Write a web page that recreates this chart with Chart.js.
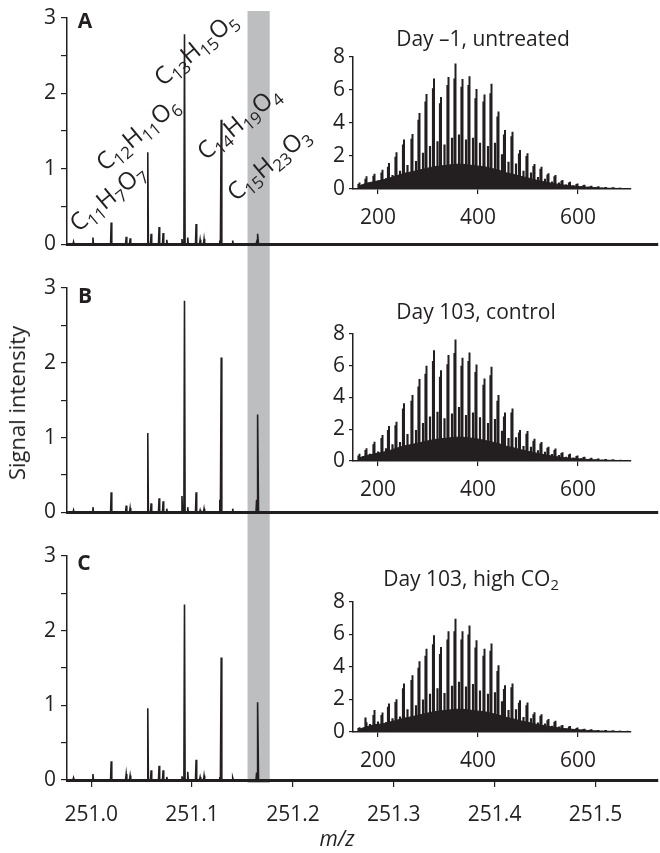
<!DOCTYPE html>
<html>
<head>
<meta charset="utf-8">
<script src="https://cdn.jsdelivr.net/npm/chart.js@4.4.1/dist/chart.umd.min.js"></script>
<style>
body { margin: 0; background: #fff; }
#wrap { position: relative; width: 660px; height: 853px; overflow: hidden;
        font-family: 'Open Sans', sans-serif; color: #231f20; }
#wrap canvas { position: absolute; }
.lbl { position: absolute; white-space: nowrap; font-size: 22px; line-height: 1;
       transform: translate(-50%, -50%); }
.lbl sub { font-size: 0.7em; vertical-align: -0.32em; line-height: 0; }
.formula { font-size: 24px; transform: translate(-50%, -50%) rotate(-40deg); }
.panel { font-weight: bold; font-size: 21px; }
.title { font-size: 21px; }
.ylab { transform: translate(-50%, -50%) rotate(-90deg); }
.mz { font-style: italic; font-size: 21px; }
</style>
</head>
<body>
<div id="wrap">
  <canvas id="mainA" width="660" height="262" style="left:0;top:0"></canvas>
  <canvas id="mainB" width="660" height="268" style="left:0;top:262px"></canvas>
  <canvas id="mainC" width="660" height="323" style="left:0;top:530px"></canvas>
  <canvas id="insetA" width="360" height="200" style="left:300px;top:40px"></canvas>
  <canvas id="insetB" width="360" height="200" style="left:300px;top:317px"></canvas>
  <canvas id="insetC" width="360" height="195" style="left:300px;top:585px"></canvas>

  <div class="lbl panel" style="left:85px;top:20px">A</div>
  <div class="lbl panel" style="left:85px;top:295px">B</div>
  <div class="lbl panel" style="left:84px;top:562px">C</div>

  <div class="lbl formula" style="left:107px;top:197px">C<sub>11</sub>H<sub>7</sub>O<sub>7</sub></div>
  <div class="lbl formula" style="left:137px;top:133px">C<sub>12</sub>H<sub>11</sub>O<sub>6</sub></div>
  <div class="lbl formula" style="left:195px;top:48px">C<sub>13</sub>H<sub>15</sub>O<sub>5</sub></div>
  <div class="lbl formula" style="left:238px;top:122px">C<sub>14</sub>H<sub>19</sub>O<sub>4</sub></div>
  <div class="lbl formula" style="left:268px;top:163px">C<sub>15</sub>H<sub>23</sub>O<sub>3</sub></div>

  <div class="lbl title" style="left:483px;top:38px">Day –1, untreated</div>
  <div class="lbl title" style="left:476px;top:311px">Day 103, control</div>
  <div class="lbl title" style="left:471px;top:578px">Day 103, high CO<sub>2</sub></div>

  <div class="lbl ylab" style="left:16px;top:403px">Signal intensity</div>
  <div class="lbl mz" style="left:337px;top:838px">m/z</div>
</div>

<script>
// main spectra: m/z of each peak and its intensity in the three samples
const peakMz = [250.9825, 251.0017, 251.0198, 251.0347, 251.0386, 251.0561, 251.0594, 251.0673, 251.0713, 251.0749,
                251.0900, 251.0925, 251.0957, 251.1040, 251.1080, 251.1119, 251.1275, 251.1289, 251.1403, 251.1640, 251.1653];
const peaksA = [0.035, 0.09, 0.29, 0.10, 0.08, 1.22, 0.14, 0.23, 0.15, 0.06, 0.07, 2.78, 0.09, 0.27, 0.06, 0.07, 0.05, 1.65, 0.05, 0.03, 0.14];
const peaksB = [0.03, 0.07, 0.27, 0.09, 0.06, 1.06, 0.12, 0.19, 0.15, 0.05, 0.22, 2.83, 0.07, 0.27, 0.03, 0.05, 0.17, 2.07, 0.05, 0.17, 1.31];
const peaksC = [0.03, 0.08, 0.25, 0.08, 0.06, 0.96, 0.13, 0.19, 0.13, 0.04, 0.05, 2.35, 0.11, 0.27, 0.04, 0.06, 0.04, 1.64, 0.03, 0.10, 1.04];

const bandMz = [251.155, 251.177];
const mainXTicks = [251.0, 251.1, 251.2, 251.3, 251.4, 251.5];
const mainYTicks = [0, 0.5, 1, 1.5, 2, 2.5, 3];

// insets: broadband spectra, one cluster every ~14 Da
const insetMz = [163, 177, 193, 209, 222, 237, 252, 269, 283, 297, 312, 326, 341, 355, 369, 383, 397, 413, 427,
                 441, 454, 469, 484, 499, 513, 527, 541, 555, 569, 584, 599, 613, 627, 641, 656, 671, 685, 699];
const tallA = [0.40, 0.77, 0.93, 1.17, 1.58, 2.22, 3.00, 3.33, 4.60, 5.76, 6.69, 5.58, 6.79, 7.60, 6.67, 6.83, 6.06, 5.72, 6.38,
               4.70, 3.58, 3.47, 2.36, 2.16, 1.52, 1.35, 0.95, 0.85, 0.55, 0.44, 0.34, 0.26, 0.20, 0.16, 0.12, 0.10, 0.08, 0.06];
const secondA = [0.30, 0.62, 0.80, 1.00, 1.35, 1.95, 2.70, 3.05, 4.20, 5.30, 6.10, 5.20, 6.30, 6.70, 6.20, 6.30, 5.50, 5.30, 5.80,
                 4.40, 3.30, 3.20, 2.15, 2.00, 1.40, 1.22, 0.88, 0.78, 0.50, 0.40, 0.31, 0.24, 0.18, 0.14, 0.11, 0.09, 0.07, 0.05];
const midA = [0.25, 0.40, 0.50, 0.65, 0.85, 1.10, 1.45, 1.70, 2.20, 2.60, 2.90, 2.70, 3.10, 3.30, 3.00, 3.10, 2.80, 2.60, 2.80,
              2.10, 1.65, 1.55, 1.10, 1.00, 0.72, 0.62, 0.45, 0.40, 0.27, 0.22, 0.17, 0.13, 0.10, 0.08, 0.06, 0.05, 0.04, 0.03];
const baseA = [0.20, 0.35, 0.45, 0.55, 0.65, 0.80, 0.95, 1.05, 1.15, 1.25, 1.35, 1.40, 1.45, 1.50, 1.50, 1.45, 1.40, 1.35, 1.25,
               1.15, 1.00, 0.90, 0.78, 0.68, 0.56, 0.47, 0.38, 0.31, 0.25, 0.20, 0.15, 0.12, 0.09, 0.07, 0.05, 0.04, 0.03, 0.02];

const tallB = [0.45, 0.80, 1.21, 1.64, 2.20, 2.47, 3.63, 4.15, 5.16, 6.00, 6.98, 5.72, 6.67, 7.65, 6.50, 6.84, 6.08, 5.20, 5.93,
               4.15, 3.06, 3.31, 1.95, 1.89, 1.40, 1.20, 0.90, 0.78, 0.55, 0.45, 0.35, 0.27, 0.20, 0.16, 0.12, 0.10, 0.08, 0.06];
const secondB = [0.35, 0.70, 1.05, 1.45, 1.95, 2.25, 3.30, 3.80, 4.70, 5.50, 6.30, 5.30, 6.10, 6.80, 6.00, 6.30, 5.60, 4.80, 5.40,
                 3.80, 2.80, 3.05, 1.80, 1.72, 1.28, 1.10, 0.83, 0.70, 0.50, 0.41, 0.32, 0.25, 0.18, 0.14, 0.11, 0.09, 0.07, 0.05];
const midB = [0.30, 0.45, 0.60, 0.80, 1.05, 1.20, 1.70, 1.95, 2.40, 2.80, 3.10, 2.70, 3.00, 3.40, 2.90, 3.05, 2.75, 2.40, 2.65,
              1.90, 1.45, 1.50, 0.95, 0.90, 0.68, 0.58, 0.44, 0.38, 0.27, 0.22, 0.17, 0.13, 0.10, 0.08, 0.06, 0.05, 0.04, 0.03];
const baseB = [0.20, 0.35, 0.45, 0.55, 0.65, 0.80, 0.95, 1.05, 1.15, 1.25, 1.35, 1.40, 1.45, 1.50, 1.50, 1.45, 1.40, 1.30, 1.20,
               1.10, 0.95, 0.85, 0.72, 0.62, 0.52, 0.43, 0.35, 0.28, 0.22, 0.18, 0.14, 0.11, 0.08, 0.06, 0.05, 0.04, 0.03, 0.02];

const tallC = [0.30, 0.60, 1.35, 1.20, 1.76, 2.02, 2.98, 3.50, 4.36, 5.13, 5.95, 5.23, 6.20, 6.97, 6.20, 6.56, 5.64, 5.13, 5.44,
               4.11, 2.88, 2.99, 1.96, 1.82, 1.21, 1.10, 0.80, 0.70, 0.43, 0.37, 0.27, 0.20, 0.17, 0.13, 0.12, 0.10, 0.08, 0.07];
const secondC = [0.25, 0.90, 1.05, 1.05, 1.55, 1.85, 2.70, 3.20, 3.95, 4.70, 5.40, 4.80, 5.70, 6.20, 5.70, 6.00, 5.20, 4.70, 5.00,
                 3.75, 2.65, 2.75, 1.80, 1.65, 1.10, 1.00, 0.73, 0.63, 0.40, 0.34, 0.25, 0.18, 0.15, 0.12, 0.11, 0.09, 0.07, 0.06];
const midC = [0.25, 0.50, 0.65, 0.60, 0.85, 0.95, 1.40, 1.65, 2.00, 2.35, 2.70, 2.40, 2.85, 3.10, 2.80, 2.95, 2.55, 2.35, 2.45,
              1.90, 1.35, 1.40, 0.92, 0.85, 0.58, 0.52, 0.38, 0.34, 0.21, 0.18, 0.14, 0.10, 0.08, 0.07, 0.06, 0.05, 0.04, 0.03];
const baseC = [0.18, 0.32, 0.45, 0.50, 0.60, 0.72, 0.85, 0.95, 1.05, 1.15, 1.25, 1.30, 1.35, 1.40, 1.40, 1.35, 1.30, 1.25, 1.15,
               1.05, 0.92, 0.82, 0.70, 0.60, 0.50, 0.42, 0.34, 0.28, 0.22, 0.18, 0.14, 0.11, 0.08, 0.06, 0.05, 0.04, 0.03, 0.02];

const insetXTicks = [200, 400, 600];
const insetYTicks = [0, 2, 4, 6, 8];

const ink = '#231f20';
Chart.defaults.font.family = "'Open Sans', sans-serif";
Chart.defaults.color = ink;

// narrow triangle per peak
function sticks(mz, h, half) {
    const pts = [];
    mz.forEach((m, i) => {
        pts.push({ x: m - half, y: 0 }, { x: m, y: h[i] }, { x: m + half, y: 0 });
    });
    return pts;
}

// vertical line per peak, broken by nulls
function spikes(mz, h, shift) {
    const pts = [];
    mz.forEach((m, i) => {
        pts.push({ x: m + shift, y: 0 }, { x: m + shift, y: h[i] }, { x: m + shift, y: null });
    });
    return pts;
}

// grey band behind the C15H23O3 peak
const bandPlugin = {
    id: 'band',
    beforeDraw(chart, args, opts) {
        const sx = chart.scales.x;
        const x1 = sx.getPixelForValue(bandMz[0]);
        const x2 = sx.getPixelForValue(bandMz[1]);
        const ctx = chart.ctx;
        ctx.save();
        ctx.fillStyle = '#bcbec0';
        ctx.fillRect(x1, opts.top, x2 - x1, opts.bottom - opts.top);
        ctx.restore();
    }
};

function mainChart(id, peaks, o) {
    return new Chart(document.getElementById(id), {
        type: 'line',
        data: {
            datasets: [{
                data: sticks(peakMz, peaks, 0.0006),
                borderColor: ink,
                borderWidth: 1.6,
                pointRadius: 0,
                tension: 0
            }]
        },
        options: {
            responsive: false,
            animation: false,
            events: [],
            layout: { padding: { top: o.top, right: 2, left: 0, bottom: 0 } },
            plugins: {
                legend: { display: false },
                tooltip: { enabled: false },
                band: { top: o.bandTop, bottom: o.bandBottom }
            },
            scales: {
                x: {
                    type: 'linear',
                    min: 250.976,
                    max: 251.562,
                    afterBuildTicks: s => { s.ticks = mainXTicks.map(v => ({ value: v })); },
                    afterFit: s => { s.height = o.xh; },
                    ticks: {
                        display: o.labels,
                        autoSkip: false,
                        maxRotation: 0,
                        padding: 15,
                        font: { size: 21 },
                        callback: v => v.toFixed(1)
                    },
                    grid: { display: o.labels, drawOnChartArea: false, tickLength: 7, color: ink, lineWidth: 1.2 },
                    border: { display: true, color: ink, width: 3 }
                },
                y: {
                    min: 0,
                    max: 3,
                    afterBuildTicks: s => { s.ticks = mainYTicks.map(v => ({ value: v })); },
                    afterFit: s => { s.width = 67; },
                    ticks: {
                        autoSkip: false,
                        padding: 5,
                        font: { size: 21 },
                        callback: v => Number.isInteger(v) ? String(v) : ''
                    },
                    grid: { drawOnChartArea: false, tickLength: 6, color: ink, lineWidth: 1.2 },
                    border: { display: true, color: ink, width: 1.5 }
                }
            }
        },
        plugins: [bandPlugin]
    });
}

function insetChart(id, tall, second, mid, base, o) {
    return new Chart(document.getElementById(id), {
        type: 'line',
        data: {
            datasets: [
                {
                    data: insetMz.map((m, i) => ({ x: m, y: base[i] })),
                    fill: 'origin',
                    backgroundColor: ink,
                    borderColor: ink,
                    borderWidth: 1,
                    pointRadius: 0,
                    tension: 0
                },
                { data: spikes(insetMz, mid, 7), borderColor: ink, borderWidth: 2.2, pointRadius: 0 },
                { data: spikes(insetMz, second, -2), borderColor: ink, borderWidth: 2.2, pointRadius: 0 },
                { data: spikes(insetMz, tall, 0), borderColor: ink, borderWidth: 2, pointRadius: 0 }
            ]
        },
        options: {
            responsive: false,
            animation: false,
            events: [],
            layout: { padding: { top: o.top, right: 29.5, left: 0, bottom: 0 } },
            plugins: { legend: { display: false }, tooltip: { enabled: false } },
            scales: {
                x: {
                    type: 'linear',
                    min: 150,
                    max: 705,
                    afterBuildTicks: s => { s.ticks = insetXTicks.map(v => ({ value: v })); },
                    afterFit: s => { s.height = o.xh; },
                    ticks: { autoSkip: false, maxRotation: 0, padding: 11, font: { size: 21 } },
                    grid: { drawOnChartArea: false, tickLength: 5, color: ink, lineWidth: 1.2 },
                    border: { display: true, color: ink, width: 1.5 }
                },
                y: {
                    min: 0,
                    max: 8,
                    afterBuildTicks: s => { s.ticks = insetYTicks.map(v => ({ value: v })); },
                    afterFit: s => { s.width = 53; },
                    ticks: { autoSkip: false, padding: 4, font: { size: 21 } },
                    grid: { drawOnChartArea: false, tickLength: 4, color: ink, lineWidth: 1.2 },
                    border: { display: true, color: ink, width: 1.5 }
                }
            }
        }
    });
}

mainChart('mainA', peaksA, { top: 14, xh: 17, labels: false, bandTop: 11, bandBottom: 262 });
mainChart('mainB', peaksB, { top: 26, xh: 13, labels: false, bandTop: 0, bandBottom: 268 });
mainChart('mainC', peaksC, { top: 26, xh: 73, labels: true, bandTop: 0, bandBottom: 253 });

insetChart('insetA', tallA, secondA, midA, baseA, { top: 17, xh: 51 });
insetChart('insetB', tallB, secondB, midB, baseB, { top: 17, xh: 56 });
insetChart('insetC', tallC, secondC, midC, baseC, { top: 17, xh: 48 });
</script>
</body>
</html>
